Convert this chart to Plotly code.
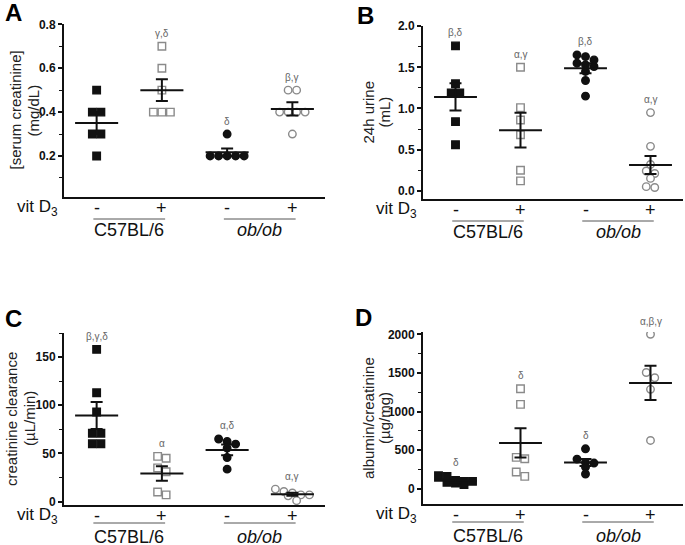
import plotly.graph_objects as go

# group positions and x labels (vit D3 -/+ within each strain)
groups = [1, 2, 3, 4]
vitd_text = ["-", "+", "-", "+"]
strains = ["C57BL/6", "<i>ob/ob</i>"]

# A: serum creatinine (mg/dL)
a_wt_ctrl = [0.5, 0.4, 0.4, 0.3, 0.3, 0.2]
a_wt_vitd = [0.7, 0.6, 0.5, 0.4, 0.4, 0.4]
a_ob_ctrl = [0.3, 0.2, 0.2, 0.2, 0.2, 0.2]
a_ob_vitd = [0.5, 0.5, 0.4, 0.4, 0.4, 0.4, 0.3]
a_sem = [0.05, 0.05, 0.017, 0.03]
a_sig = ["", "γ,δ", "δ", "β,γ"]

# B: 24h urine (mL)
b_wt_ctrl = [1.76, 1.30, 1.19, 1.19, 0.84, 0.56]
b_wt_vitd = [1.50, 1.01, 0.86, 0.68, 0.25, 0.12]
b_ob_ctrl = [1.65, 1.63, 1.59, 1.55, 1.53, 1.51, 1.45, 1.34, 1.15]
b_ob_vitd = [0.95, 0.54, 0.32, 0.24, 0.21, 0.15, 0.05, 0.04]
b_sem = [0.165, 0.21, 0.06, 0.11]
b_sig = ["β,δ", "α,γ", "β,δ", "α,γ"]

# C: creatinine clearance (uL/min)
c_wt_ctrl = [158, 113, 93, 71, 71, 60, 60]
c_wt_vitd = [47, 45, 35, 31, 10, 7]
c_ob_ctrl = [65, 62.5, 59.7, 55.5, 45.8, 33.7]
c_ob_vitd = [13, 10.5, 9, 7, 7, 6, 1]
c_sem = [14, 7.5, 5.5, 1.5]
c_sig = ["β,γ,δ", "α", "α,δ", "α,γ"]

# D: albumin/creatinine (ug/mg)
d_wt_ctrl = [171, 162, 111, 98, 98, 85, 77, 55]
d_wt_vitd = [1296, 1094, 408, 390, 219, 163]
d_ob_ctrl = [519, 386, 343, 335, 283, 193]
d_ob_vitd = [2000, 1506, 1438, 1288, 627]
d_sem = [25, 190, 45, 223]
d_sig = ["δ", "δ", "δ", "α,β,γ"]

W, H = 685, 545
FONT = "Liberation Sans"

panels = [
    dict(letter="A", data=[a_wt_ctrl, a_wt_vitd, a_ob_ctrl, a_ob_vitd], sem=a_sem, sig=a_sig,
         yrange=[0.013, 0.8015], dtick=0.2, minor=0.1, fmt=".1f",
         box=(64, 325, 24, 197), title=["[serum creatinine]", "(mg/dL)"], tx=(15, 33),
         lx=13, ly=13, under=219, lab=230, vit=208),
    dict(letter="B", data=[b_wt_ctrl, b_wt_vitd, b_ob_ctrl, b_ob_vitd], sem=b_sem, sig=b_sig,
         yrange=[-0.1, 2.002], dtick=0.5, minor=0.25, fmt=".1f",
         box=(423, 683, 26, 199), title=["24h urine", "(mL)"], tx=(368, 384),
         lx=365, ly=15, under=221, lab=232, vit=210),
    dict(letter="C", data=[c_wt_ctrl, c_wt_vitd, c_ob_ctrl, c_ob_vitd], sem=c_sem, sig=c_sig,
         yrange=[-3.5, 175], dtick=50, minor=25, fmt="d",
         box=(64, 325, 333, 505), title=["creatinine clearance", "(µL/min)"], tx=(11, 29),
         lx=13, ly=318, under=523, lab=537, vit=516),
    dict(letter="D", data=[d_wt_ctrl, d_wt_vitd, d_ob_ctrl, d_ob_vitd], sem=d_sem, sig=d_sig,
         yrange=[-195, 2030], dtick=500, minor=250, fmt="d",
         box=(423, 683, 332, 504), title=["albumin/creatinine", "(µg/mg)"], tx=(368, 384),
         lx=363, ly=317, under=522, lab=536, vit=515),
]


def swarm(vals, px_per_unit, unit_dx, thresh=6.0):
    # spread near-equal values side by side, symmetric about the group centre
    order = sorted(range(len(vals)), key=lambda i: -vals[i])
    rows, cur = [], []
    for i in order:
        if cur and abs(vals[cur[0]] - vals[i]) * px_per_unit > thresh:
            rows.append(cur)
            cur = []
        cur.append(i)
    if cur:
        rows.append(cur)
    off = [0.0] * len(vals)
    for row in rows:
        n = len(row)
        for k, i in enumerate(row):
            off[i] = (k - (n - 1) / 2) * unit_dx
    return off


fig = go.Figure()
layout = {}
annotations = []
shapes = []
open_grey = "#8a8a8a"


def label(**kw):
    kw.setdefault("xanchor", "center")
    kw.setdefault("yanchor", "middle")
    kw.setdefault("showarrow", False)
    annotations.append(kw)


for p_i, p in enumerate(panels):
    n = "" if p_i == 0 else str(p_i + 1)
    xa, ya = "x" + n, "y" + n
    left, right, top, bottom = p["box"]
    height_px = bottom - top
    ppu = height_px / (p["yrange"][1] - p["yrange"][0])
    unit_dx = 8.5 / ((right - left) / 4.0)

    for g, vals in zip(groups, p["data"]):
        filled = g in (1, 3)
        sym = "square" if g in (1, 2) else "circle"
        off = swarm(vals, ppu, unit_dx)
        fig.add_trace(go.Scatter(
            x=[g + o for o in off], y=vals, mode="markers", xaxis=xa, yaxis=ya,
            marker=dict(symbol=sym, size=7.5,
                        color="#111111" if filled else "white",
                        line=dict(color="#111111" if filled else open_grey, width=1.4)),
            showlegend=False, hoverinfo="y"))

    for g, vals, s, sig in zip(groups, p["data"], p["sem"], p["sig"]):
        m = sum(vals) / len(vals)
        fig.add_trace(go.Scatter(
            x=[g - 0.33, g + 0.33], y=[m, m], mode="lines", xaxis=xa, yaxis=ya,
            line=dict(color="#111111", width=2), showlegend=False, hoverinfo="skip"))
        fig.add_trace(go.Scatter(
            x=[g], y=[m], mode="markers", xaxis=xa, yaxis=ya,
            marker=dict(size=1, color="rgba(0,0,0,0)"),
            error_y=dict(type="data", array=[s], color="#111111", thickness=2, width=6),
            showlegend=False, hoverinfo="skip"))
        if sig:
            label(x=g, y=max(vals), xref=xa, yref=ya, text=sig, yshift=13,
                  font=dict(family=FONT, size=10, color="#666666"))
        # vit D3 -/+ under each group
        label(x=g, y=1 - p["vit"] / H, xref=xa, yref="paper", text=vitd_text[g - 1],
              font=dict(family=FONT, size=18, color="#111111"))

    layout["xaxis" + n] = dict(
        domain=[left / W, right / W], anchor=ya, range=[0.5, 4.5], automargin=False,
        showline=True, linecolor="#111111", linewidth=2, showgrid=False, zeroline=False,
        showticklabels=False, ticks="")
    layout["yaxis" + n] = dict(
        domain=[1 - bottom / H, 1 - top / H], anchor=xa, range=p["yrange"], automargin=False,
        showline=True, linecolor="#111111", linewidth=2, showgrid=False, zeroline=False,
        dtick=p["dtick"], tick0=0, tickformat=p["fmt"], ticks="outside", ticklen=4,
        tickwidth=1.5, tickcolor="#111111",
        minor=dict(dtick=p["minor"], tick0=0, ticks="outside", ticklen=3, tickwidth=1.2,
                   tickcolor="#111111"),
        tickfont=dict(family=FONT, size=12, color="#111111", weight="bold"))

    # panel letter
    label(x=p["lx"] / W, y=1 - p["ly"] / H, xref="paper", yref="paper",
          text="<b>%s</b>" % p["letter"], font=dict(family=FONT, size=24, color="#000000"))
    # y titles
    ymid = 1 - (top + bottom) / 2 / H
    for line, tx in zip(p["title"], p["tx"]):
        label(x=tx / W, y=ymid, xref="paper", yref="paper", text=line, textangle=-90,
              font=dict(family=FONT, size=15, color="#222222"))
    # vit D3 label
    label(x=(left - 4) / W, y=1 - p["vit"] / H, xref="paper", yref="paper",
          xanchor="right", text="vit D<sub>3</sub>",
          font=dict(family=FONT, size=17, color="#111111"))
    # strain underlines and labels
    for k, name in enumerate(strains):
        g0, g1 = groups[2 * k], groups[2 * k + 1]
        shapes.append(dict(type="line", xref=xa, yref="paper", x0=g0 - 0.05, x1=g1 + 0.05,
                           y0=1 - p["under"] / H, y1=1 - p["under"] / H,
                           line=dict(color="#555555", width=1)))
        label(x=(g0 + g1) / 2, y=1 - p["lab"] / H, xref=xa, yref="paper", text=name,
              font=dict(family=FONT, size=18, color="#111111"))

fig.update_layout(
    width=W, height=H, margin=dict(l=0, r=0, t=0, b=0, autoexpand=False),
    paper_bgcolor="white", plot_bgcolor="white",
    annotations=annotations, shapes=shapes, **layout)

fig.write_html("out.html", config={"displayModeBar": False},
               post_script="document.body.style.margin = '0';")
